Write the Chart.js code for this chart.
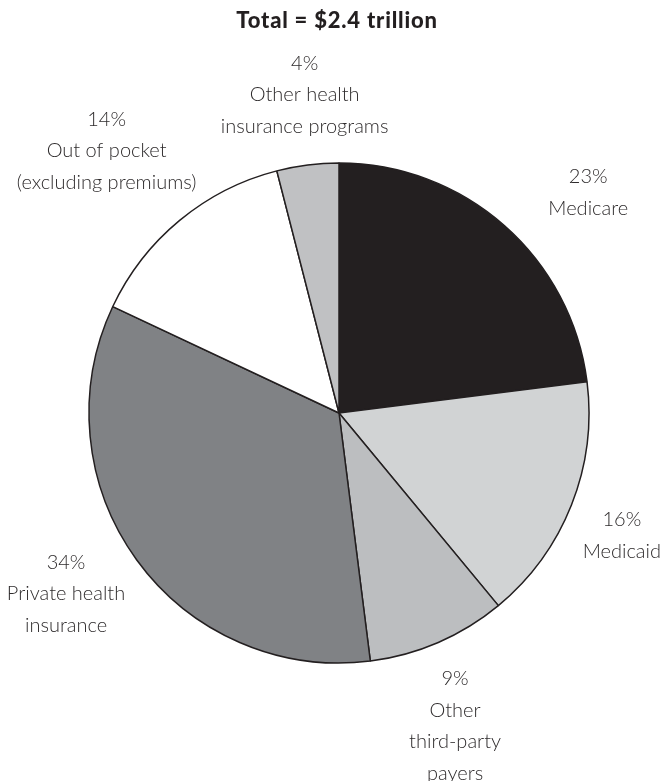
<!DOCTYPE html>
<html>
<head>
<meta charset="utf-8">
<title>Health spending by payer</title>
<script src="https://cdn.jsdelivr.net/npm/chart.js@4"></script>
<style>
  html, body { margin: 0; padding: 0; background: #fff; }
  #wrap { width: 666px; height: 781px; }
</style>
</head>
<body>
<div id="wrap"><canvas id="payerPie" width="666" height="781"></canvas></div>
<script>
// share of national health spending by source of funds (percent)
const payers = ['Medicare', 'Medicaid', 'Other third-party payers', 'Private health insurance',
                'Out of pocket (excluding premiums)', 'Other health insurance programs'];
const shares = [23, 16, 9, 34, 14, 4];
const sliceColors = ['#231f20', '#d1d3d4', '#bcbec0', '#808285', '#ffffff', '#c0c1c3'];
// text shown beside each slice, one entry per line
const labelLines = [
    ['Medicare'],
    ['Medicaid'],
    ['Other', 'third-party', 'payers'],
    ['Private health', 'insurance'],
    ['Out of pocket', '(excluding premiums)'],
    ['Other health', 'insurance programs']
];
// nudges from the radial anchor point, px
const labelNudge = [[31, 27], [-24, 1], [-15, 10], [-6, -13], [-22, -8], [7, 9]];
const titleText = 'Total = $2.4 trillion';

const inkColor = '#231f20';
const lineGap = 31.5;

const sliceLabels = {
    id: 'sliceLabels',
    afterDraw(chart) {
        const ctx = chart.ctx;
        const arcs = chart.getDatasetMeta(0).data;
        ctx.save();
        ctx.fillStyle = inkColor;
        ctx.textAlign = 'center';
        ctx.textBaseline = 'middle';

        ctx.font = '900 22px Lato, "DejaVu Sans", sans-serif';
        ctx.letterSpacing = '0.8px';
        ctx.fillText(titleText, arcs[0].x - 2, 21);
        ctx.letterSpacing = '0px';

        ctx.fillStyle = '#2e2b2c';
        ctx.font = '300 20px Lato, "DejaVu Sans", sans-serif';
        arcs.forEach((arc, i) => {
            const mid = (arc.startAngle + arc.endAngle) / 2;
            const r = arc.outerRadius * 1.32;
            const cx = arc.x + Math.cos(mid) * r + labelNudge[i][0];
            const cy = arc.y + Math.sin(mid) * r + labelNudge[i][1];
            const lines = [shares[i] + '%'].concat(labelLines[i]);
            const top = cy - (lines.length - 1) * lineGap / 2;
            lines.forEach((t, k) => ctx.fillText(t, cx, top + k * lineGap));
        });
        ctx.restore();
    }
};

const ctx = document.getElementById('payerPie').getContext('2d');
new Chart(ctx, {
    type: 'pie',
    data: {
        labels: payers,
        datasets: [{
            data: shares,
            backgroundColor: sliceColors,
            borderColor: inkColor,
            borderWidth: 1.5,
            hoverOffset: 0,
            radius: 250
        }]
    },
    options: {
        responsive: false,
        animation: false,
        layout: {
            padding: { left: 12, right: 0, top: 45, bottom: 0 }
        },
        plugins: {
            legend: { display: false },
            tooltip: { enabled: false },
            title: { display: false }
        }
    },
    plugins: [sliceLabels]
});
</script>
</body>
</html>
